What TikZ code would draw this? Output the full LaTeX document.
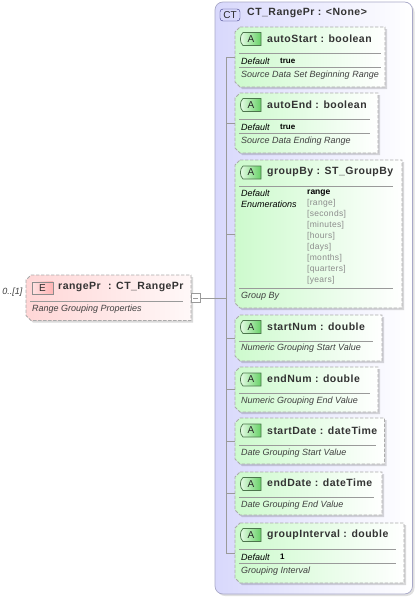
\documentclass[tikz,border=0pt]{standalone}
\usepackage{fontspec}
\setmainfont{Liberation Sans}
\newfontfamily\namefont[LetterSpace=4.6]{Liberation Sans}
\newfontfamily\enumfont[LetterSpace=3.5]{Liberation Sans}
\definecolor{dashc}{HTML}{ABABAB}
\definecolor{linec}{HTML}{9A9A9A}
\definecolor{greenL}{HTML}{CDFACD}
\definecolor{redL}{HTML}{FFD6D6}
\definecolor{redR}{HTML}{FFF8F8}
\definecolor{ctL}{HTML}{D8D8FC}
\definecolor{ctB}{HTML}{A8A8C8}
\definecolor{enumc}{HTML}{8C8C8C}
\tikzset{
  x=1pt,y=-1pt,
  boxname/.style={inner sep=0pt,anchor=west,font=\namefont\fontsize{10.5}{12}\selectfont\bfseries,text=black!80},
  doctext/.style={inner sep=0pt,anchor=west,font=\fontsize{9}{10}\selectfont\itshape,text=black!75},
  metakey/.style={inner sep=0pt,anchor=west,font=\fontsize{9}{10}\selectfont\itshape,text=black},
  metaval/.style={inner sep=0pt,anchor=west,font=\fontsize{8}{9}\selectfont\bfseries,text=black},
  enumval/.style={inner sep=0pt,anchor=west,font=\enumfont\fontsize{8.5}{9}\selectfont,text=enumc},
  sepline/.style={draw=linec,line width=0.6pt},
  tree/.style={draw=linec,line width=0.6pt},
  badgetext/.style={inner sep=0pt,font=\fontsize{10}{10}\selectfont,text=black!85},
}
% \chambox{name}{x0}{y0}{x1}{y1}{left colour}{right colour}
\newcommand{\chambox}[7]{%
  \fill[black,opacity=0.15] (#2+5,#3+2) -- (#4+2,#3+2) -- (#4+2,#5+2) -- (#2+7,#5+2) -- (#2+2,#5-3) -- (#2+2,#3+7) -- cycle;
  \path[left color=#6,middle color=#6!14!#7,right color=#7] (#2+5,#3) -- (#4,#3) -- (#4,#5) -- (#2+5,#5) -- (#2,#5-5) -- (#2,#3+5) -- cycle;
  \draw[dashc,line width=0.9pt,dash pattern=on 3.4pt off 1.6pt] (#2+5,#3) -- (#4,#3) -- (#4,#5) -- (#2+5,#5) -- (#2,#5-5) -- (#2,#3+5) -- cycle;
  \node[inner sep=0pt,minimum width=#4-#2,minimum height=#5-#3] (#1) at ({(#2+#4)/2},{(#3+#5)/2}) {};
}
% green attribute badge
\newcommand{\abadge}[3]{%
  \path[left color=greenL!40!white,right color=green!70!black!60!white] (#2+3,#3) -- (#2+21,#3) -- (#2+21,#3+13) -- (#2+3,#3+13) .. controls (#2-0.5,#3+10) and (#2-0.5,#3+3) .. (#2+3,#3) -- cycle;
  \draw[black!60!green!40!gray,line width=0.7pt] (#2+3,#3) -- (#2+21,#3) -- (#2+21,#3+13) -- (#2+3,#3+13) .. controls (#2-0.5,#3+10) and (#2-0.5,#3+3) .. (#2+3,#3) -- cycle;
  \node[badgetext] (#1) at (#2+11,#3+6.5) {A};
}
\begin{document}
\begin{tikzpicture}
\useasboundingbox (0,0) rectangle (416,597);
\fill[white] (0,0) rectangle (416,597);
% CT container
\fill[black,opacity=0.12,rounded corners=8pt] (217,4) rectangle (414.5,596);
\path[left color=ctL,middle color=ctL!30!white,right color=white,rounded corners=8pt] (215,2) rectangle (412.5,594);
\draw[ctB,line width=0.7pt,rounded corners=8pt] (215,2) rectangle (412.5,594);
\node[inner sep=0pt,minimum width=20pt,minimum height=12pt,rounded corners=3pt,draw=black!50!blue!60!gray,fill=ctL,font=\fontsize{10}{10}\selectfont,text=black!85] (ctbadge) at (230,15) {CT};
\node[boxname] (cttitle) at (247,13) {CT\_RangePr : <None>};
% Element
\chambox{elem}{26}{275}{191}{320.5}{redL}{redR}
\node[inner sep=0pt,anchor=east,font=\fontsize{9}{10}\selectfont\itshape,text=black!75] (occ) at (22.5,292) {0..[1]};
\node[inner sep=0pt,minimum width=21pt,minimum height=12.5pt,draw=black!45,left color=redL!70!white,right color=red!30!white,font=\fontsize{10}{10}\selectfont,text=black!85] (ebadge) at (42.5,288) {E};
\node[boxname] (elemname) at (58,286.5) {rangePr\hspace{4pt} : CT\_RangePr};
\draw[sepline] (30,301) -- (183,301);
\node[doctext] (elemdoc) at (32,309) {Range Grouping Properties};
% Minus box and trunk
\node[inner sep=0pt,minimum size=9pt,draw=linec,fill=white,line width=0.6pt] (minus) at (195.5,298) {};
\draw[linec,line width=0.6pt] (193,298) -- (198,298);
\coordinate (trunk) at (226,298);
\draw[tree] (minus.east) -- (trunk);
\coordinate (trunktop) at (226,57);
\coordinate (trunkbot) at (226,553);
\draw[tree] (trunktop) -- (trunkbot);
% autoStart
\chambox{autoStart}{235}{27}{385}{87}{greenL}{white}
\abadge{aA}{240}{32.5}
\node[boxname] (aN) at (267,38.5) {autoStart : boolean};
\draw[sepline] (239,53) -- (381,53);
\node[metakey] (aK) at (241,61) {Default};
\node[metaval] (aV) at (280,60.5) {true};
\draw[sepline] (239,67) -- (381,67);
\node[doctext] (aD) at (241,75) {Source Data Set Beginning Range};
% autoEnd
\chambox{autoEnd}{235}{93}{378}{153}{greenL}{white}
\abadge{bA}{240}{98.5}
\node[boxname] (bN) at (267,104.5) {autoEnd : boolean};
\draw[sepline] (239,119) -- (370,119);
\node[metakey] (bK) at (241,127) {Default};
\node[metaval] (bV) at (280,126.5) {true};
\draw[sepline] (239,133) -- (370,133);
\node[doctext] (bD) at (241,141) {Source Data Ending Range};
% groupBy
\chambox{groupBy}{235}{160}{402}{308}{greenL}{white}
\abadge{cA}{240}{166}
\node[boxname] (cN) at (267,172) {groupBy : ST\_GroupBy};
\draw[sepline] (239,186.5) -- (393,186.5);
\node[metakey] (cK) at (241,193.5) {Default};
\node[metaval,font=\fontsize{8.5}{9}\selectfont\bfseries] (cV) at (307,193) {range};
\node[metakey] (cE) at (241,204) {Enumerations};
\node[enumval] (e1) at (307,203.5) {[range]};
\node[enumval] (e2) at (307,214.5) {[seconds]};
\node[enumval] (e3) at (307,225.5) {[minutes]};
\node[enumval] (e4) at (307,236.5) {[hours]};
\node[enumval] (e5) at (307,247.5) {[days]};
\node[enumval] (e6) at (307,258.5) {[months]};
\node[enumval] (e7) at (307,269.5) {[quarters]};
\node[enumval] (e8) at (307,280.5) {[years]};
\draw[sepline] (239,288.5) -- (393,288.5);
\node[doctext] (cD) at (241,296) {Group By};
% startNum
\chambox{startNum}{235}{315}{382}{361}{greenL}{white}
\abadge{dA}{240}{320.5}
\node[boxname] (dN) at (267,326.5) {startNum : double};
\draw[sepline] (239,341.5) -- (373,341.5);
\node[doctext] (dD) at (241,348.5) {Numeric Grouping Start Value};
% endNum
\chambox{endNum}{235}{367}{378}{412}{greenL}{white}
\abadge{eA}{240}{373}
\node[boxname] (eN) at (267,378.5) {endNum : double};
\draw[sepline] (239,393) -- (370,393);
\node[doctext] (eD) at (241,401) {Numeric Grouping End Value};
% startDate
\chambox{startDate}{235}{418}{384.5}{464}{greenL}{white}
\abadge{fA}{240}{424}
\node[boxname] (fN) at (267,430.5) {startDate : dateTime};
\draw[sepline] (239,445) -- (376,445);
\node[doctext] (fD) at (241,453) {Date Grouping Start Value};
% endDate
\chambox{endDate}{235}{472}{382}{515}{greenL}{white}
\abadge{gA}{240}{477.5}
\node[boxname] (gN) at (267,482.5) {endDate : dateTime};
\draw[sepline] (239,497) -- (374,497);
\node[doctext] (gD) at (241,505) {Date Grouping End Value};
% groupInterval
\chambox{groupInterval}{235}{523}{404}{583}{greenL}{white}
\abadge{hA}{240}{528.5}
\node[boxname] (hN) at (267,534.5) {groupInterval : double};
\draw[sepline] (239,549) -- (396,549);
\node[metakey] (hK) at (241,557) {Default};
\node[metaval] (hV) at (280,556.5) {1};
\draw[sepline] (239,563) -- (396,563);
\node[doctext] (hD) at (241,571) {Grouping Interval};
% Branches
\foreach \n in {autoStart,autoEnd,groupBy,startNum,endNum,startDate,endDate,groupInterval}
  \draw[tree] (\n.west -| trunk) -- (\n.west);
\end{tikzpicture}
\end{document}
